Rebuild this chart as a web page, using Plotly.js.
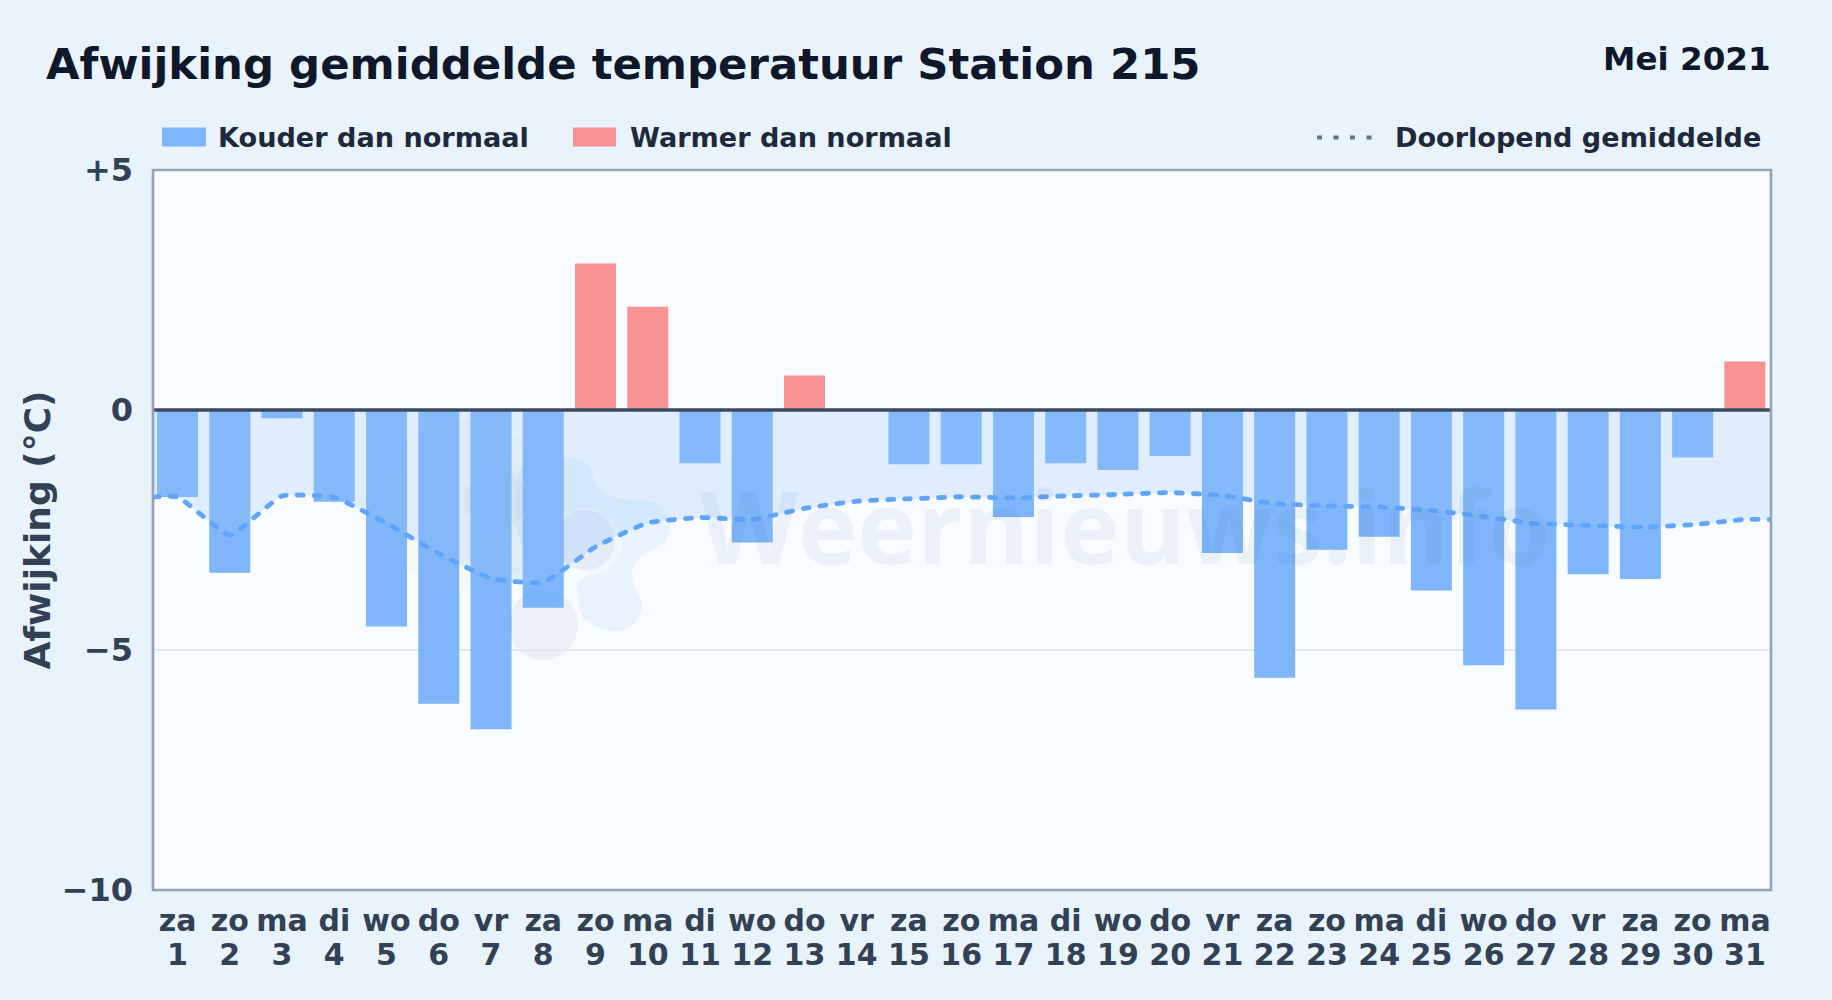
<!DOCTYPE html>
<html>
<head>
<meta charset="utf-8">
<script src="https://cdn.plot.ly/plotly-3.0.1.min.js"></script>
<style>
html,body{margin:0;padding:0;background:#e9f3fc;}
#chart{width:1832px;height:1000px;}
.scatterlayer .js-line{stroke-linecap:round;}
</style>
</head>
<body>
<div id="chart"></div>
<script>
const weekdays = ["za","zo","ma","di","wo","do","vr","za","zo","ma","di","wo","do","vr","za","zo","ma","di","wo","do","vr","za","zo","ma","di","wo","do","vr","za","zo","ma"];
const dayNumbers = [1,2,3,4,5,6,7,8,9,10,11,12,13,14,15,16,17,18,19,20,21,22,23,24,25,26,27,28,29,30,31];
const deviation = [-1.81,-3.39,-0.17,-1.91,-4.51,-6.12,-6.65,-4.12,3.05,2.15,-1.11,-2.76,0.72,0,-1.13,-1.13,-2.23,-1.11,-1.25,-0.96,-2.98,-5.58,-2.91,-2.64,-3.76,-5.32,-6.24,-3.42,-3.52,-0.99,1.01];
const runningMean = [-1.81,-2.60,-1.79,-1.82,-2.36,-2.99,-3.51,-3.59,-2.85,-2.35,-2.24,-2.28,-2.05,-1.90,-1.85,-1.81,-1.83,-1.79,-1.76,-1.72,-1.78,-1.95,-2.00,-2.02,-2.09,-2.22,-2.37,-2.40,-2.44,-2.39,-2.28];
const yTickValues = [5,0,-5,-10];
const yTickLabels = ["+5","0","−5","−10"];
const legendLabels = ["Kouder dan normaal","Warmer dan normaal","Doorlopend gemiddelde"];

const W = 1832, H = 1000;
const M = {l:153, r:61, t:169.5, b:110};
const xRange = [-0.47, 30.5];
const yRange = [-10, 5];

const dayIndex = dayNumbers.map(d => d - 1);
const lineX = [xRange[0], ...dayIndex, xRange[1]];
const lineY = [runningMean[0], ...runningMean, runningMean[runningMean.length-1]];

const coldColor = "rgba(96,165,250,0.8)";
const warmColor = "rgba(248,113,113,0.76)";
const font = "'DejaVu Sans', sans-serif";

// watermark helpers: pixel positions on the page -> paper fractions
const fx = x => (x - M.l) / (W - M.l - M.r);
const fy = y => 1 - (y - M.t) / (H - M.t - M.b);
function blob(pts){
  const n = pts.length; let d = "M " + fx(pts[0][0]) + " " + fy(pts[0][1]);
  for(let i=0;i<n;i++){
    const p0=pts[(i-1+n)%n],p1=pts[i],p2=pts[(i+1)%n],p3=pts[(i+2)%n];
    const c1=[p1[0]+(p2[0]-p0[0])/6,p1[1]+(p2[1]-p0[1])/6];
    const c2=[p2[0]-(p3[0]-p1[0])/6,p2[1]-(p3[1]-p1[1])/6];
    d += " C "+fx(c1[0])+" "+fy(c1[1])+" "+fx(c2[0])+" "+fy(c2[1])+" "+fx(p2[0])+" "+fy(p2[1]);
  }
  return d+" Z";
}
function disc(cx,cy,r,color){
  return {type:"circle",xref:"paper",yref:"paper",layer:"below",x0:fx(cx-r),x1:fx(cx+r),y0:fy(cy+r),y1:fy(cy-r),fillcolor:color,line:{width:0}};
}
const watermarkBlue = [[552,457],[587,463],[597,487],[617,498],[653,502],[670,523],[663,543],[640,557],[632,577],[642,607],[630,627],[607,630],[583,617],[578,593],[577,583],[587,573],[560,560],[520,540],[520,470]];

const shapes = [
  disc(465,505,85,"rgba(240,235,150,0.10)"),
  {type:"path",xref:"paper",yref:"paper",layer:"below",path:blob(watermarkBlue),fillcolor:"rgba(96,175,250,0.10)",line:{width:0}},
  disc(495,500,31,"rgba(90,120,160,0.07)"),
  disc(587,541,35,"rgba(248,251,255,0.5)"),
  disc(585,540,30,"rgba(90,120,160,0.08)"),
  disc(543,625,35,"rgba(90,120,160,0.07)"),
  {type:"line",xref:"paper",yref:"y",x0:0,x1:1,y0:0,y1:0,layer:"above",line:{color:"#3b4a5e",width:3.6}},
  {type:"rect",xref:"paper",yref:"paper",x0:0,x1:1,y0:0,y1:1,layer:"above",line:{color:"#94a3b8",width:2.6}},
  {type:"rect",xref:"paper",yref:"paper",x0:fx(162),x1:fx(206),y0:fy(146),y1:fy(127),fillcolor:coldColor,line:{width:0}},
  {type:"rect",xref:"paper",yref:"paper",x0:fx(573),x1:fx(616),y0:fy(146),y1:fy(127),fillcolor:warmColor,line:{width:0}},
  {type:"line",xref:"paper",yref:"paper",x0:fx(1317),x1:fx(1374),y0:fy(137),y1:fy(137),line:{color:"#64748b",width:4,dash:"5px,11.5px"}}
];

function label(text,x,y,size,color,anchor){
  return {text:text,xref:"paper",yref:"paper",x:fx(x),y:fy(y),xanchor:anchor||"left",yanchor:"middle",showarrow:false,
    font:{family:font,size:size,color:color,weight:700},borderpad:0,borderwidth:0};
}
const annotations = [
  {text:"Weernieuws.info",xref:"paper",yref:"paper",x:fx(698),y:fy(525),xanchor:"left",yanchor:"middle",showarrow:false,
   font:{family:"'Open Sans', sans-serif",size:101,color:"rgba(30,80,140,0.06)",weight:700}},
  label("Mei 2021",1771,58,32.6,"#0f172a","right"),
  label(legendLabels[0],218,136.5,27.1,"#1e293b"),
  label(legendLabels[1],630,136.5,27.1,"#1e293b"),
  label(legendLabels[2],1395,136.5,27.1,"#1e293b")
];

const traces = [
  {type:"scatter",mode:"lines",x:[xRange[0],xRange[1]],y:[0,0],line:{width:0},hoverinfo:"skip",showlegend:false},
  {type:"scatter",mode:"lines",x:lineX,y:lineY,line:{width:0,shape:"spline",smoothing:0.4},fill:"tonexty",fillcolor:"rgba(147,197,253,0.25)",hoverinfo:"skip",showlegend:false},
  {type:"bar",x:dayIndex,y:deviation,width:0.785,marker:{color:deviation.map(v=>v<0?coldColor:warmColor),line:{width:0}},showlegend:false},
  {type:"scatter",mode:"lines",x:lineX,y:lineY,line:{color:"#60a5fa",width:4.8,shape:"spline",smoothing:0.4,dash:"6px,11px"},showlegend:false},
  {type:"scatter",mode:"none",x:dayIndex,y:runningMean,xaxis:"x2",hoverinfo:"skip",showlegend:false}
];

const layout = {
  width:W,height:H,
  margin:{l:M.l,r:M.r,t:M.t,b:M.b,pad:0},
  paper_bgcolor:"#e9f3fc",plot_bgcolor:"#f8fbff",
  font:{family:font,color:"#334155"},
  title:{text:"Afwijking gemiddelde temperatuur Station 215",x:46/W,xref:"container",xanchor:"left",y:1-64/H,yref:"container",yanchor:"middle",
    font:{family:font,size:43.4,color:"#0f172a",weight:700}},
  showlegend:false,bargap:0.2,
  xaxis:{range:xRange,tickmode:"array",tickvals:dayIndex,ticktext:dayIndex.map(i=>weekdays[i]),
    showgrid:false,zeroline:false,ticks:"",tickangle:0,
    tickfont:{family:font,size:30,color:"#334155",weight:700},
    showline:false,ticklabelstandoff:10},
  xaxis2:{range:xRange,overlaying:"x",anchor:"y",side:"bottom",tickmode:"array",tickvals:dayIndex,ticktext:dayNumbers.map(String),
    showgrid:false,zeroline:false,ticks:"",tickangle:0,
    tickfont:{family:font,size:30,color:"#334155",weight:700},
    showline:false,ticklabelstandoff:44},
  yaxis:{range:yRange,tickmode:"array",tickvals:yTickValues,ticktext:yTickLabels,
    showgrid:true,gridcolor:"#e2e8f0",gridwidth:2,zeroline:false,ticks:"",
    tickfont:{family:font,size:32,color:"#334155",weight:700},
    showline:false,ticklabelstandoff:19,
    title:{text:"Afwijking (°C)",font:{family:font,size:36,color:"#334155",weight:700},standoff:0}},
  shapes:shapes,annotations:annotations
};
Plotly.newPlot("chart",traces,layout,{displayModeBar:false,staticPlot:true});
</script>
</body>
</html>
